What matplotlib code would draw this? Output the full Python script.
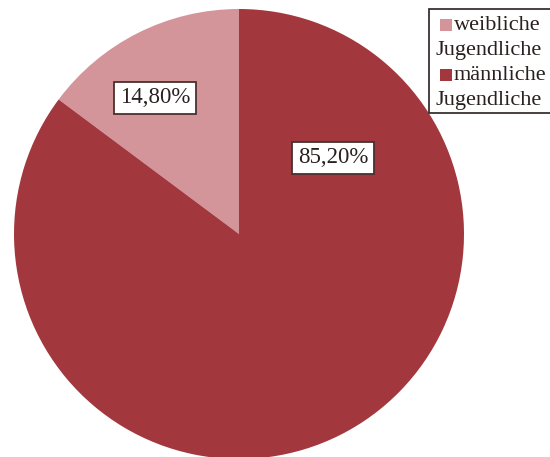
import matplotlib.pyplot as plt
from matplotlib.patches import Rectangle

labels = ["weibliche Jugendliche", "männliche Jugendliche"]
shares = [14.8, 85.2]
colors = ["#D3959A", "#A2383E"]
legend_lines = [["weibliche", "Jugendliche"], ["männliche", "Jugendliche"]]

plt.rcParams["font.family"] = ["Liberation Serif", "DejaVu Serif"]

W, H = 550, 457
fig = plt.figure(figsize=(W / 100, H / 100), dpi=100)

# pie: centre (239, 234) px, radius 225 px
cx, cy, r = 239, 234, 225
ax = fig.add_axes([(cx - r) / W, (H - cy - r) / H, 2 * r / W, 2 * r / H])
ax.pie(shares, colors=colors, startangle=90, counterclock=True,
       wedgeprops=dict(linewidth=0))
ax.set_xlim(-1, 1)
ax.set_ylim(-1, 1)
ax.set_aspect("auto")
ax.axis("off")

# percentage boxes
label_pos = [(-0.373, 0.605), (0.418, 0.338)]
for val, (x, y) in zip(shares, label_pos):
    txt = f"{val:.2f}%".replace(".", ",")
    ax.text(x, y, txt, ha="center", va="center", fontsize=16.5, color="#2a2020",
            bbox=dict(boxstyle="square,pad=0.25", fc="white", ec="#4a3030", lw=1.3))

# legend drawn by hand (second line wraps back under the marker)
fig.patches.append(Rectangle((429 / W, 1 - 113 / H), 130 / W, 104 / H,
                             transform=fig.transFigure, fc="white",
                             ec="#3a3030", lw=1.3))
y = 25
for col, lines in zip(colors, legend_lines):
    fig.patches.append(Rectangle((440 / W, 1 - (y + 6) / H), 12 / W, 12 / H,
                                 transform=fig.transFigure, fc=col, ec="none"))
    fig.text(454 / W, 1 - y / H, lines[0], ha="left", va="center",
             fontsize=16, color="#2a2020")
    fig.text(436 / W, 1 - (y + 25.5) / H, lines[1], ha="left", va="center",
             fontsize=16, color="#2a2020")
    y += 50

fig.savefig("out.png", dpi=100)
